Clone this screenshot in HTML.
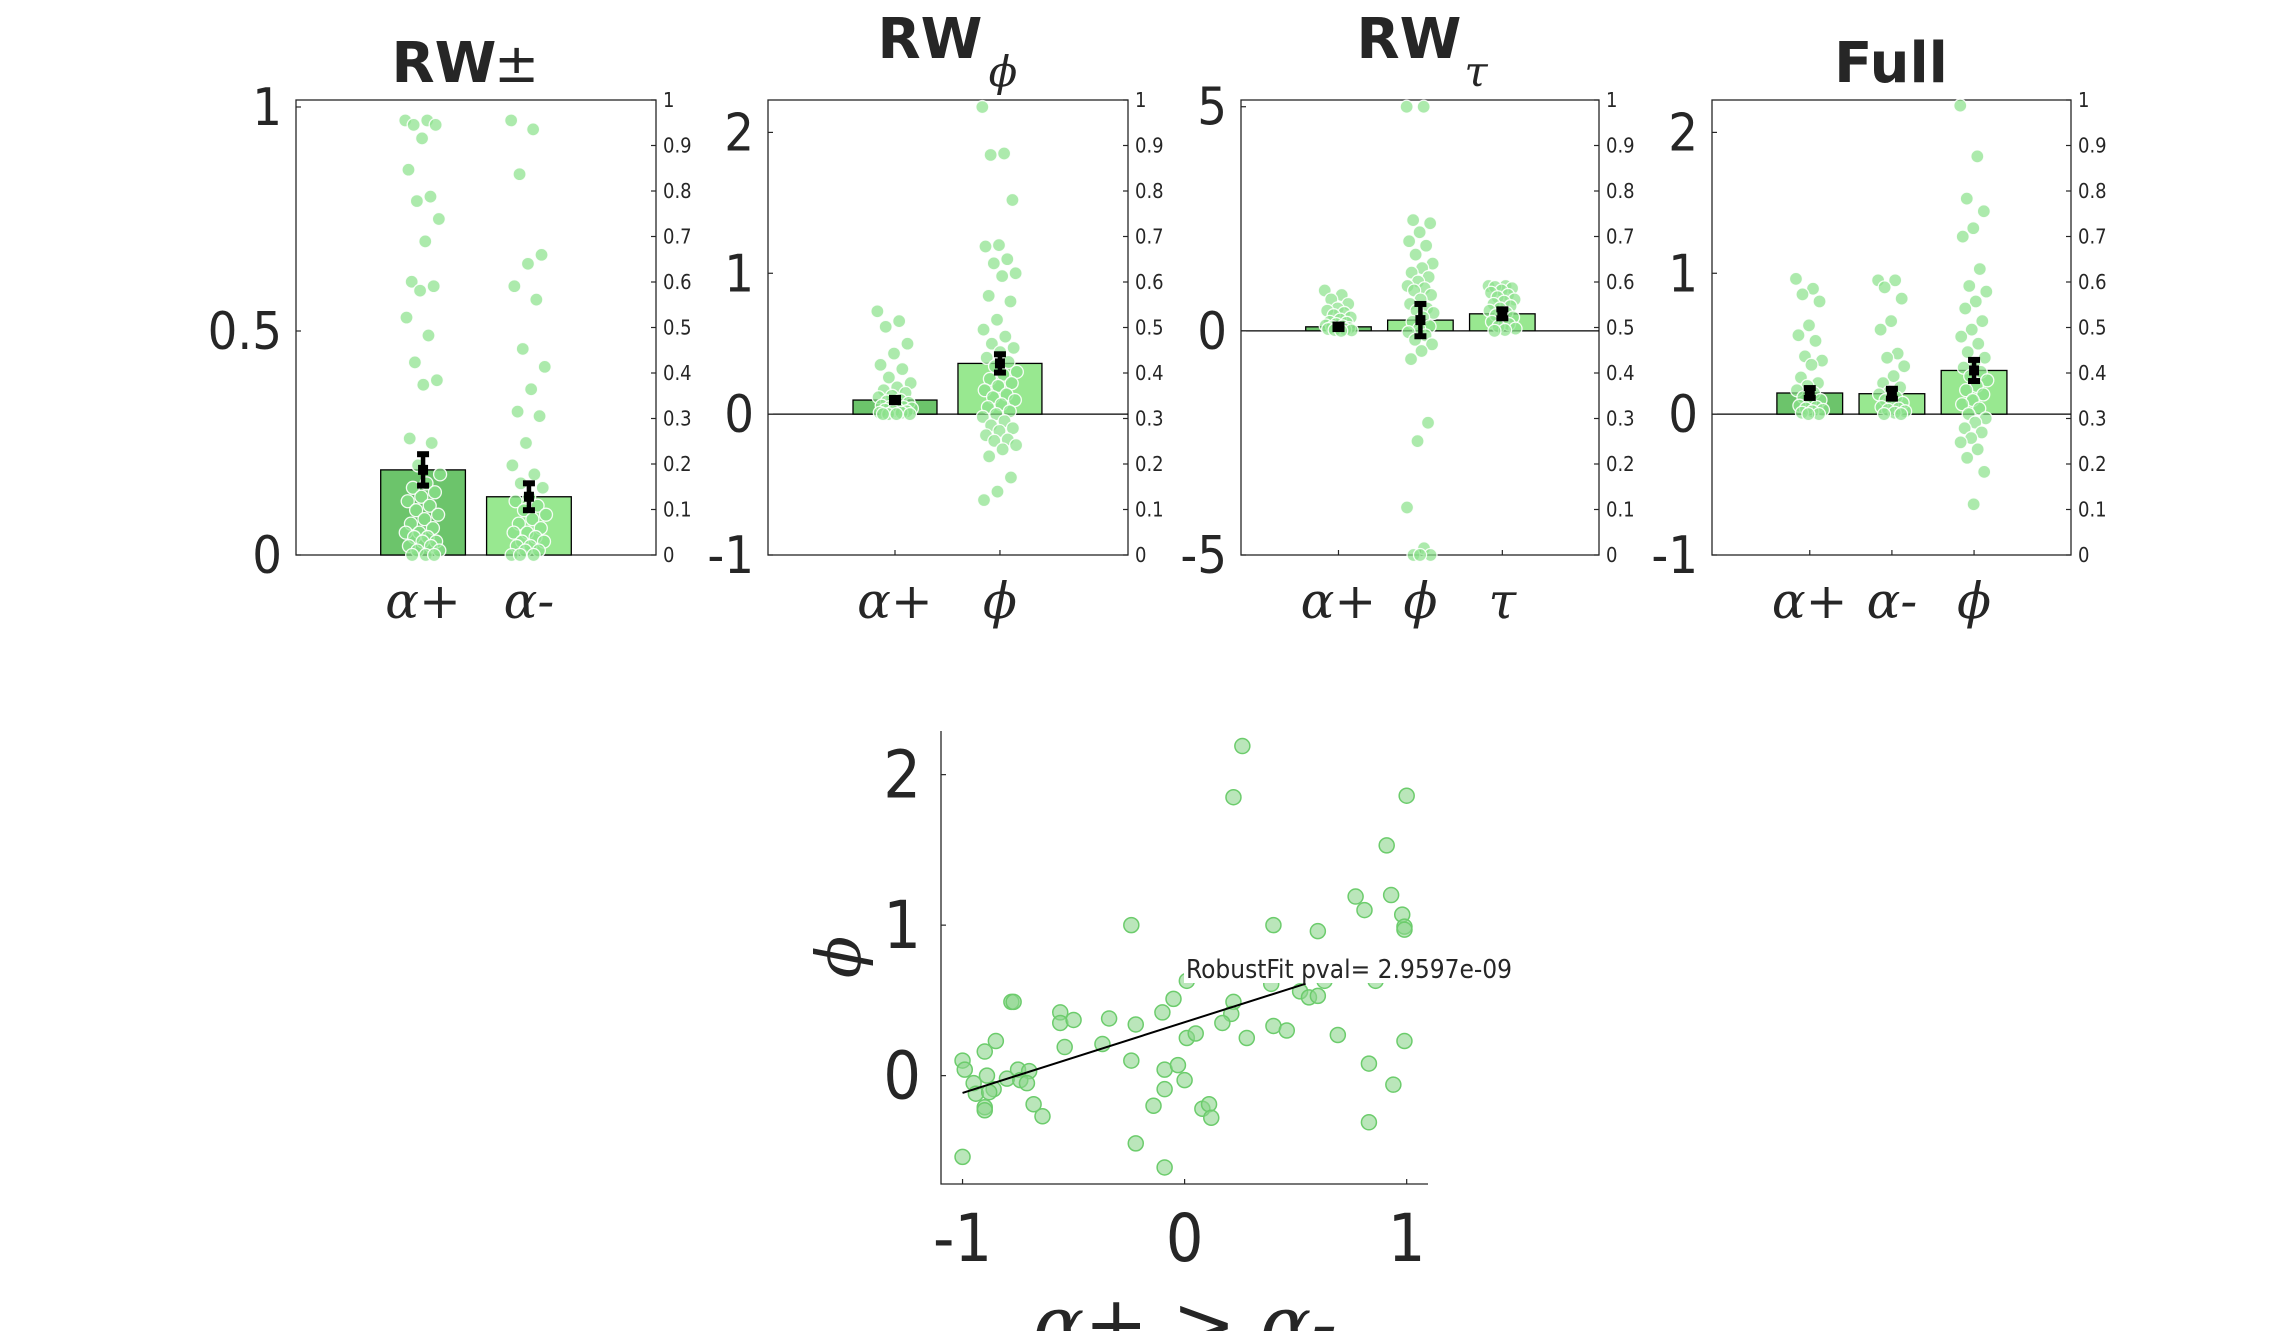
<!DOCTYPE html>
<html><head><meta charset="utf-8"><style>
html,body{margin:0;padding:0;background:#fff;}
svg{display:block;}
text{font-family:"DejaVu Sans Condensed","DejaVu Sans","Liberation Sans",sans-serif;fill:#262626;}
.ser{font-family:"DejaVu Serif","Liberation Serif",serif;font-style:italic;}
.ttl{font-family:"DejaVu Sans","Liberation Sans",sans-serif;}
</style></head><body>
<svg id="fig" width="2289" height="1331" viewBox="0 0 2289 1331" xmlns="http://www.w3.org/2000/svg"></svg>
<script>
// ---- Panel data ----
const p1Cats = ["α+","α-"];
const p1Means = [0.19,0.13];
const p1Errs = [0.035,0.03];
const p1A = [0.97,0.97,0.96,0.96,0.93,0.86,0.8,0.79,0.75,0.7,0.61,0.6,0.59,0.53,0.49,0.43,0.39,0.38,0.26,0.25,0.2,0.18,0.16,0.15,0.14,0.13,0.12,0.11,0.1,0.09,0.08,0.07,0.06,0.05,0.05,0.04,0.04,0.03,0.03,0.02,0.02,0.01,0.01,0.0,0.0,0.0];
const p1B = [0.97,0.95,0.85,0.67,0.65,0.6,0.57,0.46,0.42,0.37,0.32,0.31,0.25,0.2,0.18,0.16,0.15,0.13,0.12,0.11,0.1,0.09,0.08,0.07,0.06,0.05,0.05,0.04,0.03,0.03,0.02,0.02,0.01,0.01,0,0,0];
const p1Ticks = [0,0.5,1];

const p2Cats = ["α+","ϕ"];
const p2Means = [0.1,0.36];
const p2Errs = [0.015,0.065];
const p2A = [0.73,0.66,0.62,0.5,0.43,0.35,0.32,0.26,0.22,0.19,0.17,0.15,0.13,0.12,0.1,0.09,0.08,0.07,0.06,0.05,0.05,0.04,0.03,0.03,0.02,0.02,0.01,0.01,0,0,0,0];
const p2B = [2.18,1.85,1.84,1.52,1.2,1.19,1.1,1.07,1.0,0.98,0.84,0.8,0.67,0.6,0.55,0.5,0.47,0.44,0.4,0.37,0.34,0.3,0.28,0.25,0.22,0.2,0.17,0.14,0.12,0.1,0.07,0.05,0.02,0,-0.02,-0.05,-0.08,-0.1,-0.12,-0.15,-0.18,-0.19,-0.22,-0.25,-0.3,-0.45,-0.55,-0.61];
const p2Ticks = [-1,0,1,2];

const p3Cats = ["α+","ϕ","τ"];
const p3Means = [0.09,0.24,0.38];
const p3Errs = [0.05,0.36,0.1];
const p3A = [0.9,0.8,0.7,0.6,0.5,0.45,0.4,0.35,0.3,0.25,0.2,0.18,0.15,0.12,0.1,0.08,0.06,0.05,0.04,0.03,0.02,0.01,0];
const p3B = [5,5,2.47,2.4,2.2,2.0,1.9,1.7,1.5,1.4,1.3,1.2,1.1,1.0,0.95,0.9,0.8,0.7,0.6,0.5,0.45,0.4,0.3,0.2,0.1,0.05,-0.03,-0.1,-0.2,-0.3,-0.45,-0.63,-2.05,-2.46,-3.94,-4.85,-5,-5,-5];
const p3C = [1.0,1.0,0.98,0.95,0.9,0.85,0.8,0.75,0.7,0.65,0.6,0.55,0.5,0.45,0.4,0.35,0.3,0.25,0.2,0.15,0.1,0.05,0.02,0];
const p3Ticks = [-5,0,5];

const p4Cats = ["α+","α-","ϕ"];
const p4Means = [0.15,0.145,0.31];
const p4Errs = [0.035,0.035,0.075];
const p4A = [0.96,0.89,0.85,0.8,0.63,0.56,0.52,0.41,0.38,0.35,0.26,0.22,0.2,0.17,0.15,0.12,0.1,0.08,0.06,0.05,0.04,0.03,0.02,0.01,0,0];
const p4B = [0.95,0.95,0.9,0.82,0.66,0.6,0.43,0.4,0.34,0.27,0.22,0.19,0.16,0.14,0.12,0.1,0.08,0.06,0.05,0.04,0.03,0.02,0.01,0,0];
const p4C = [2.19,1.83,1.53,1.44,1.32,1.26,1.03,0.91,0.87,0.8,0.75,0.66,0.6,0.55,0.5,0.44,0.4,0.36,0.33,0.3,0.27,0.24,0.2,0.17,0.14,0.1,0.07,0.04,0,-0.03,-0.06,-0.1,-0.13,-0.17,-0.2,-0.25,-0.31,-0.41,-0.64];
const p4Ticks = [-1,0,1,2];

const rightTicks = [0,0.1,0.2,0.3,0.4,0.5,0.6,0.7,0.8,0.9,1];

// ---- Scatter data ----
const scX = [0.26,0.22,1.0,0.91,0.77,0.93,0.81,0.98,0.99,0.99,-0.24,0.4,0.6,0.01,0.39,0.63,0.86,0.52,0.56,0.6,-0.78,-0.77,0.22,0.21,-0.05,-0.1,-0.56,-0.56,-0.5,-0.34,-0.22,0.17,0.4,0.46,0.69,0.28,0.01,0.05,0.99,-0.37,-0.54,-0.85,-0.9,-1.0,-0.99,-0.89,-0.75,-0.7,-0.8,-0.95,-0.74,-0.71,-0.94,-0.86,-0.88,-0.24,-0.09,-0.03,0.0,-0.09,0.83,0.94,-0.9,-0.9,-0.68,-0.64,-0.14,0.08,0.11,0.12,0.83,-0.22,-0.09,-1.0];
const scY = [2.19,1.85,1.86,1.53,1.19,1.2,1.1,1.07,0.99,0.97,1.0,1.0,0.96,0.63,0.61,0.63,0.63,0.56,0.52,0.53,0.49,0.49,0.49,0.41,0.51,0.42,0.42,0.35,0.37,0.38,0.34,0.35,0.33,0.3,0.27,0.25,0.25,0.28,0.23,0.21,0.19,0.23,0.16,0.1,0.04,0.0,0.04,0.03,-0.02,-0.05,-0.03,-0.05,-0.12,-0.09,-0.11,0.1,0.04,0.07,-0.03,-0.09,0.08,-0.06,-0.21,-0.23,-0.19,-0.27,-0.2,-0.22,-0.19,-0.28,-0.31,-0.45,-0.61,-0.54];
const fitSlope = [0.47];
const fitIntercept = [0.355];
const fitXRange = [-1, 0.545];
const scXTicks = [-1,0,1];
const scYTicks = [0,1,2];

const NS = "http://www.w3.org/2000/svg";
const svg = document.getElementById("fig");
function mk(tag, attrs, parent){
  const e = document.createElementNS(NS, tag);
  for (const k in attrs) e.setAttribute(k, attrs[k]);
  (parent||svg).appendChild(e);
  return e;
}

const panels = [
  {name:"rw-pm", x0:296, x1:656, xlim:[-0.2,3.2], ylim:[0,1.0156], cats:p1Cats, means:p1Means, errs:p1Errs, dots:[p1A,p1B], ticks:p1Ticks, zero:false, bw:0.8},
  {name:"rw-phi", x0:768, x1:1128, xlim:[-0.21,3.22], ylim:[-1,2.23], cats:p2Cats, means:p2Means, errs:p2Errs, dots:[p2A,p2B], ticks:p2Ticks, zero:true, bw:0.8},
  {name:"rw-tau", x0:1241, x1:1599, xlim:[-0.19,4.18], ylim:[-5,5.15], cats:p3Cats, means:p3Means, errs:p3Errs, dots:[p3A,p3B,p3C], ticks:p3Ticks, zero:true, bw:0.8},
  {name:"full", x0:1712, x1:2071, xlim:[-0.19,4.18], ylim:[-1,2.23], cats:p4Cats, means:p4Means, errs:p4Errs, dots:[p4A,p4B,p4C], ticks:p4Ticks, zero:true, bw:0.8}
];
const Y0 = 100, Y1 = 555;
const barColors = ["#6cc46b","#98e890","#98e890"];

panels.forEach((p, pi) => {
  const g = mk("g", {});
  
  
  const sx = v => p.x0 + (v - p.xlim[0]) / (p.xlim[1]-p.xlim[0]) * (p.x1-p.x0);
  const sy = v => Y1 - (v - p.ylim[0]) / (p.ylim[1]-p.ylim[0]) * (Y1-Y0);
  const sr = v => Y1 - v * (Y1-Y0);
  const box = mk("rect", {x:p.x0, y:Y0, width:p.x1-p.x0, height:Y1-Y0, fill:"none", stroke:"#262626", "stroke-width":1.3}, g);
  
  
  if (p.zero) {
    const z = mk("line", {x1:p.x0, x2:p.x1, y1:sy(0), y2:sy(0), stroke:"#000", "stroke-width":1.3}, g);
    
    
  }
  p.ticks.forEach(t => {
    const y = sy(t);
    mk("line", {x1:p.x0, x2:p.x0+5, y1:y, y2:y, stroke:"#262626", "stroke-width":1.2}, g);
    const tx = mk("text", {x:p.x0-14, y:y+18, "text-anchor":"end", "font-size":52}, g);
    tx.textContent = String(t);
    
    
  });
  rightTicks.forEach(t => {
    const y = sr(t);
    mk("line", {x1:p.x1-5, x2:p.x1, y1:y, y2:y, stroke:"#262626", "stroke-width":1.2}, g);
    const tx = mk("text", {x:p.x1+7, y:y+7, "font-size":20}, g);
    tx.textContent = String(t);
    
    
  });
  p.cats.forEach((c, i) => {
    const cx = sx(i+1), w = sx(p.bw) - sx(0);
    const top = sy(Math.max(p.means[i],0)), bot = sy(Math.min(p.means[i],0));
    const b = mk("rect", {x:cx-w/2, y:top, width:w, height:bot-top, fill: i===0 ? barColors[0] : barColors[1], stroke:"#000", "stroke-width":1.3}, g);
    
    
    mk("line", {x1:cx, x2:cx, y1:Y1, y2:Y1-5, stroke:"#262626", "stroke-width":1.2}, g);
    const lab = mk("text", {x:cx, y:618, "text-anchor":"middle", "font-size":50, class:"ser"}, g);
    lab.textContent = c;
    
    
  });
  p.dots.forEach((arr, i) => {
    const cx = sx(i+1), w = sx(p.bw) - sx(0);
    arr.forEach((v, k) => {
      const off = (((k * 0.6180339) % 1) - 0.5) * w * 0.42;
      const d = mk("circle", {cx:cx+off, cy:sy(v), r:6.5, fill:"rgba(140,226,140,0.72)", stroke:"rgba(255,255,255,0.9)", "stroke-width":1.3}, g);
      
      
    });
  });
  p.means.forEach((m, i) => {
    const cx = sx(i+1);
    const lo = sy(m - p.errs[i]), hi = sy(m + p.errs[i]);
    const e = mk("g", {}, g);
    
    
    mk("line", {x1:cx, x2:cx, y1:lo, y2:hi, stroke:"#000", "stroke-width":4.5}, e);
    mk("rect", {x:cx-6, y:hi-3, width:12, height:6, fill:"#000"}, e);
    mk("rect", {x:cx-6, y:lo-3, width:12, height:6, fill:"#000"}, e);
    mk("rect", {x:cx-5, y:sy(m)-5, width:10, height:10, fill:"#000"}, e);
  });
});

function title(x, y, txt, name){
  const t = mk("text", {x:x, y:y, "text-anchor":"middle", "font-size":56, "font-weight":"bold", fill:"#000", class:"ttl"});
  t.textContent = txt;
  
  
  return t;
}
title(444, 82, "RW", "title-rw-pm");
(function(){const t = mk("text", {x:494, y:82, "font-size":54, fill:"#000", class:"ttl"}); t.textContent = "±";
 })();
title(930, 58, "RW", "title-rw-phi");
(function(){const t = mk("text", {x:1003, y:86, "text-anchor":"middle", "font-size":42, class:"ser", fill:"#000"}); t.textContent = "ϕ";
 })();
title(1409, 58, "RW", "title-rw-tau");
(function(){const t = mk("text", {x:1476, y:86, "text-anchor":"middle", "font-size":42, class:"ser", fill:"#000"}); t.textContent = "τ";
 })();
title(1891, 82, "Full", "title-full");

// ---- Scatter ----
(function(){
  const g = mk("g", {});
  
  
  const X0 = 941, X1 = 1428, YT = 731, YB = 1184;
  const xl = [-1.097, 1.096], yl = [-0.72, 2.29];
  const sx = v => X0 + (v - xl[0]) / (xl[1]-xl[0]) * (X1-X0);
  const sy = v => YB - (v - yl[0]) / (yl[1]-yl[0]) * (YB-YT);
  const ax = mk("path", {d:`M${X0},${YT} L${X0},${YB} L${X1},${YB}`, fill:"none", stroke:"#262626", "stroke-width":1.3}, g);
  
  
  scXTicks.forEach(t => {
    mk("line", {x1:sx(t), x2:sx(t), y1:YB, y2:YB-5, stroke:"#262626", "stroke-width":1.2}, g);
    const tx = mk("text", {x:sx(t), y:1261, "text-anchor":"middle", "font-size":66}, g);
    tx.textContent = String(t);
    
    
  });
  scYTicks.forEach(t => {
    mk("line", {x1:X0, x2:X0+5, y1:sy(t), y2:sy(t), stroke:"#262626", "stroke-width":1.2}, g);
    const tx = mk("text", {x:921, y:sy(t)+23, "text-anchor":"end", "font-size":66}, g);
    tx.textContent = String(t);
    
    
  });
  scX.forEach((v, i) => {
    const c = mk("circle", {cx:sx(v), cy:sy(scY[i]), r:7.5, fill:"rgba(140,214,140,0.6)", stroke:"#6ccc6c", "stroke-width":1.5}, g);
    
    
  });
  const fl = mk("line", {x1:sx(fitXRange[0]), y1:sy(fitSlope[0]*fitXRange[0]+fitIntercept[0]), x2:sx(fitXRange[1]), y2:sy(fitSlope[0]*fitXRange[1]+fitIntercept[0]), stroke:"#000", "stroke-width":2}, g);
  
  
  mk("rect", {x:1184, y:951, width:356, height:32, fill:"#fff"}, g);
  const ft = mk("text", {x:1186, y:978, "font-size":26, fill:"#000"}, g);
  ft.textContent = "RobustFit pval= 2.9597e-09";
  
  
  const yl2 = mk("text", {x:0, y:0, "font-size":62, "text-anchor":"middle", class:"ser", transform:"translate(860,957) rotate(-90)"}, g);
  yl2.textContent = "ϕ";
  
  
  const xt = mk("text", {x:1185, y:1350, "font-size":76, "text-anchor":"middle", class:"ser"}, g);
  xt.textContent = "α+ > α-";
  
  
})();
</script>
</body></html>
